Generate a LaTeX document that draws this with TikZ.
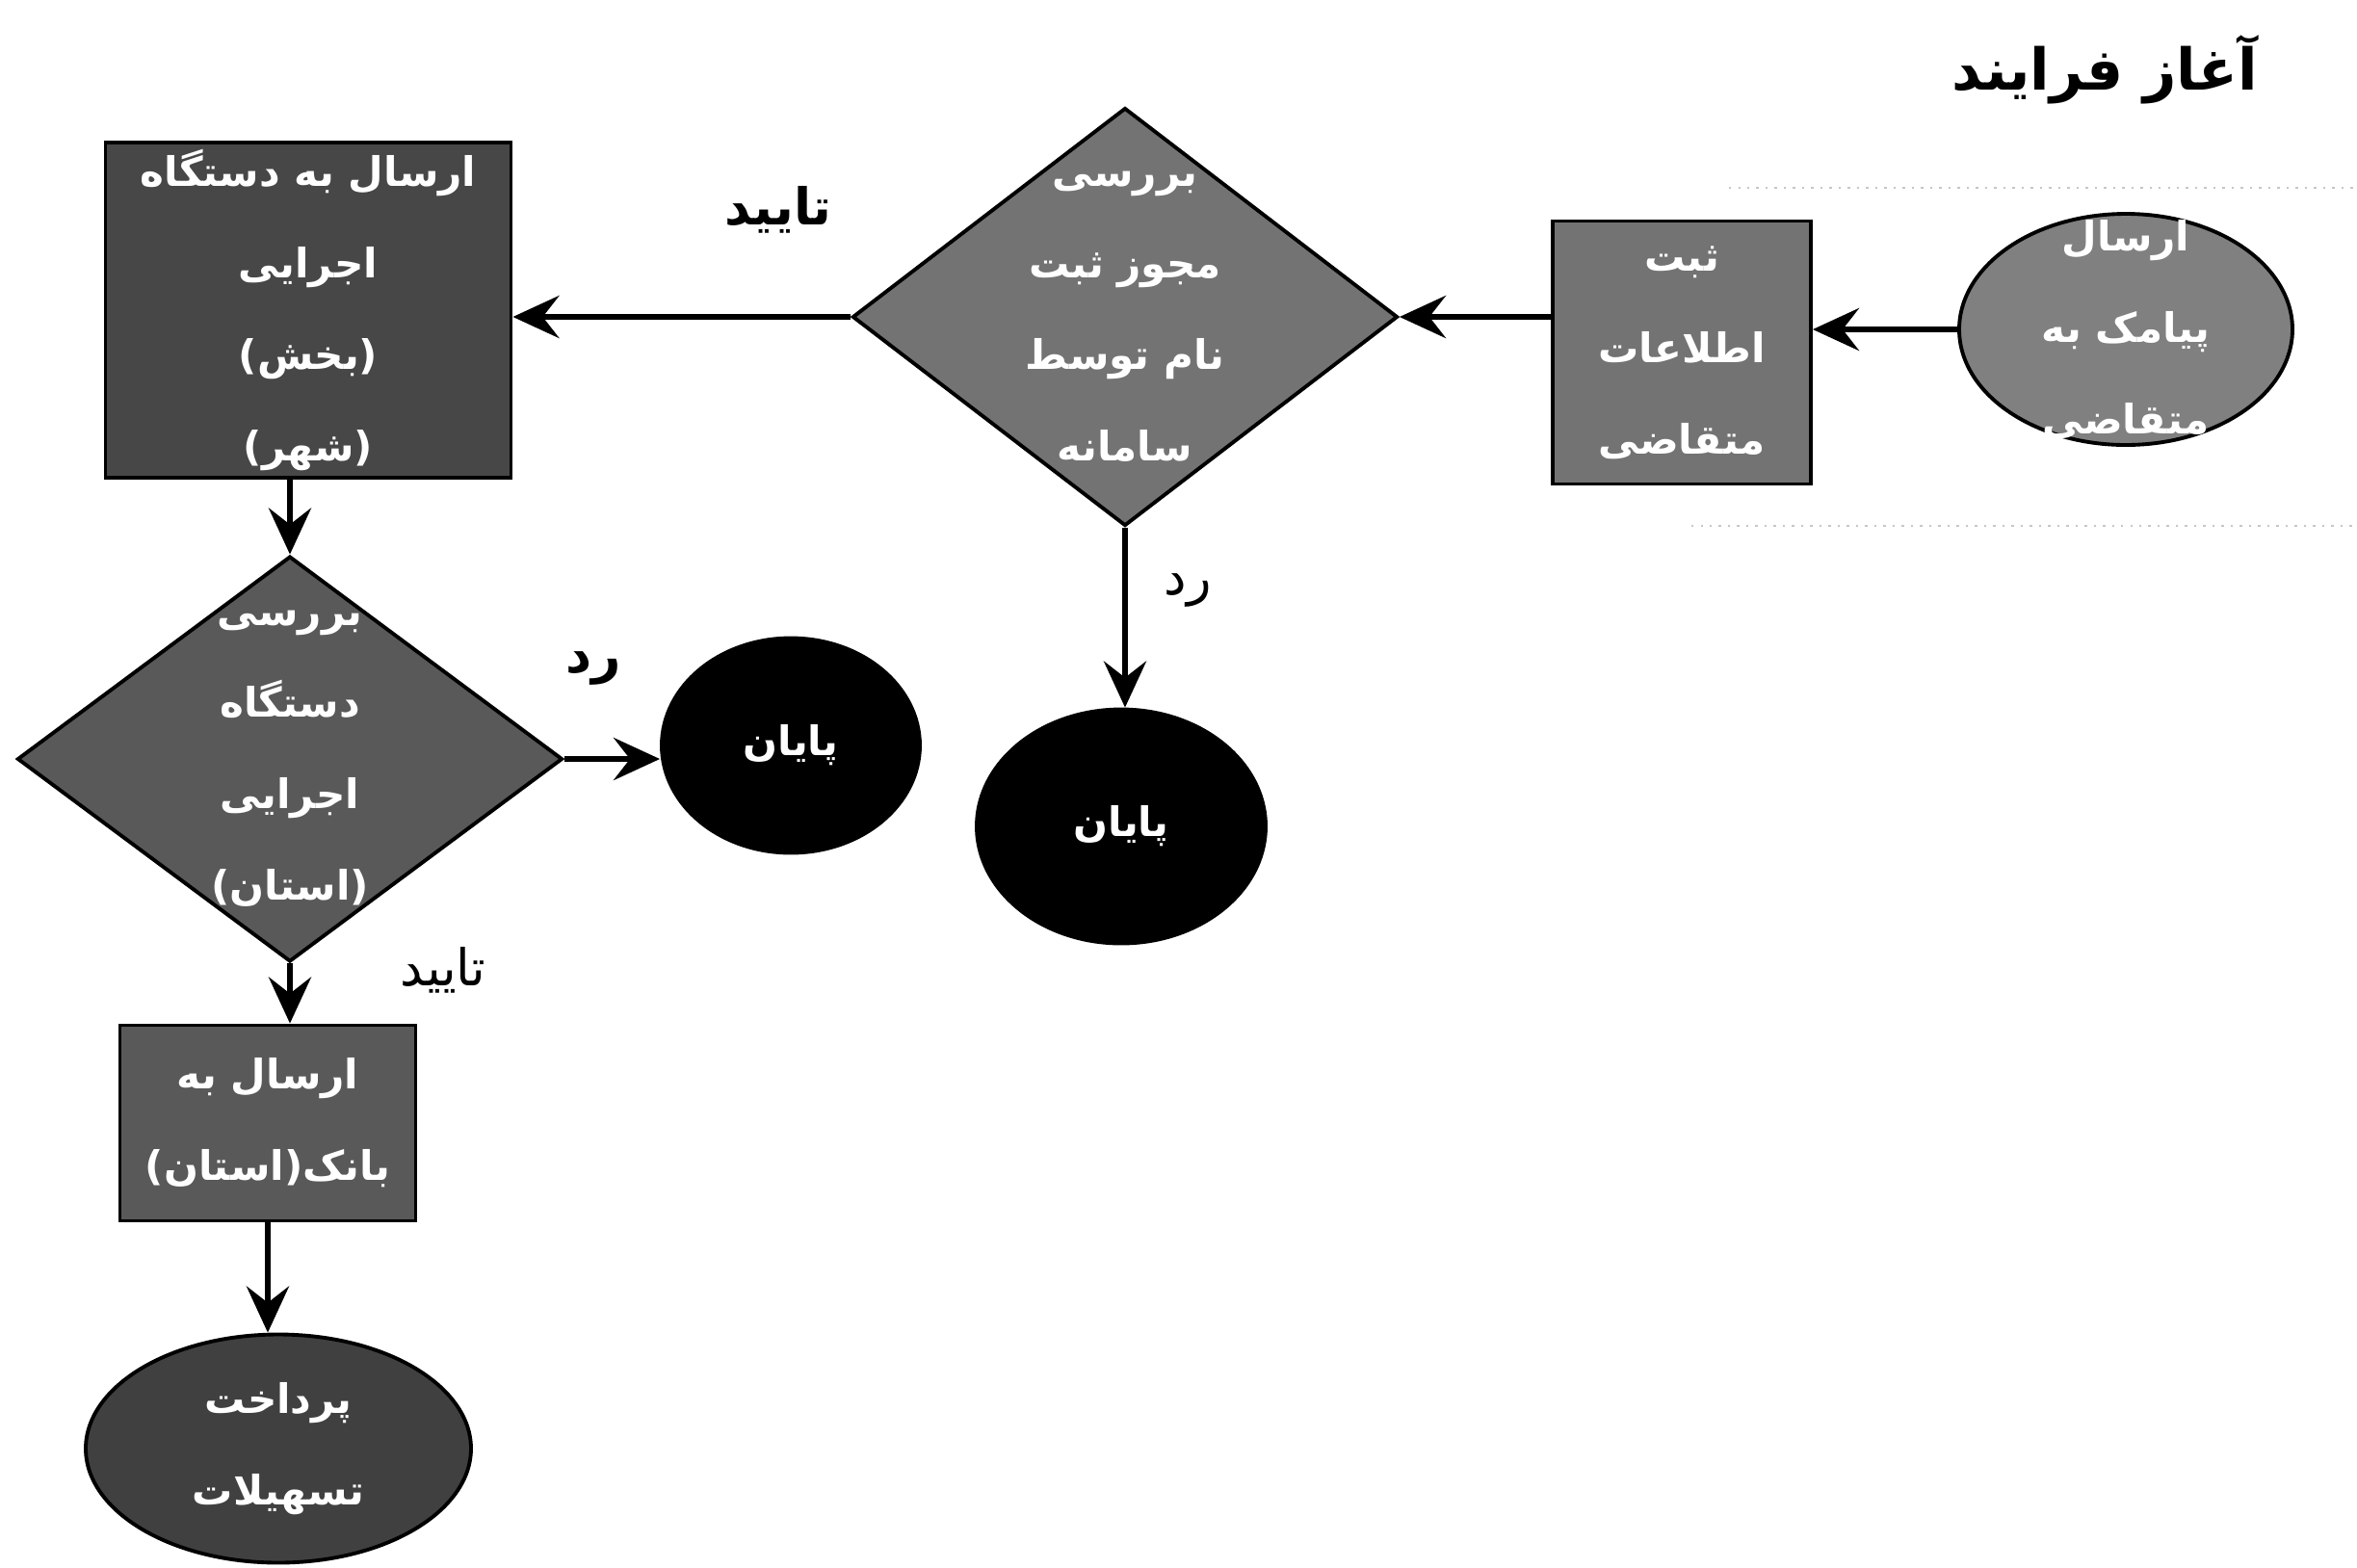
\documentclass[tikz,border=0pt]{standalone}
\usepackage{fontspec}
\newfontfamily\arabicfont[Script=Arabic]{DejaVu Sans}
\TeXXeTstate=1
\usetikzlibrary{shapes.geometric,arrows.meta}

\begin{document}
\begin{tikzpicture}[
    flowline/.style={line width=1.9pt,-{Stealth[length=4.8mm,width=4.4mm,inset=1.7mm]}},
    shapebox/.style={draw=black,line width=1.1pt,inner sep=0pt},
    inside/.style={text=white,font=\arabicfont\bfseries\fontsize{12}{27}\selectfont,align=center,inner sep=0pt},
    note/.style={font=\arabicfont\fontsize{15}{18}\selectfont,inner sep=0pt},
    boldnote/.style={note,font=\arabicfont\bfseries\fontsize{15}{18}\selectfont},
  ]
  \useasboundingbox (0,0) rectangle (24.47,-16.27);
  % Coordinates
  \coordinate (SMS) at (22.07,-3.42);
  \coordinate (REG) at (17.46,-3.66);
  \coordinate (CHK) at (11.68,-3.29);
  \coordinate (SND) at (3.20,-3.22);
  \coordinate (EOA) at (11.64,-8.58);
  \coordinate (DEV) at (3.01,-7.88);
  \coordinate (EOB) at (8.21,-7.74);
  \coordinate (BNK) at (2.78,-11.66);
  \coordinate (PAY) at (2.89,-15.04);
  % Lane (faint dotted)
  \draw[gray!45,dotted,line width=0.7pt] (17.95,-1.95) -- (24.47,-1.95);
  \draw[gray!45,dotted,line width=0.7pt] (17.56,-5.46) -- (24.47,-5.46);
  % Title
  \node[font=\arabicfont\bfseries\fontsize{17}{20}\selectfont,inner sep=0pt] (title) at (21.85,-0.72) {\beginR آغاز فرایند\endR};
  % Shapes
  \node[shapebox,ellipse,fill=black!50,minimum width=3.46cm,minimum height=2.40cm,
    label={[inside]center:{\beginR ارسال\endR\\\beginR پیامک به\endR\\\beginR متقاضی\endR}}] (sms) at (SMS) {};
  \node[shapebox,rectangle,fill=black!55,minimum width=2.68cm,minimum height=2.73cm,
    label={[inside]center:{\beginR ثبت\endR\\\beginR اطلاعات\endR\\\beginR متقاضی\endR}}] (reg) at (REG) {};
  \node[shapebox,diamond,fill=black!55,minimum width=5.66cm,minimum height=4.34cm,
    label={[inside]center:{\beginR بررسی\endR\\\beginR مجوز ثبت\endR\\\beginR نام توسط\endR\\\beginR سامانه\endR}}] (chk) at (CHK) {};
  \node[shapebox,rectangle,fill=black!72,minimum width=4.21cm,minimum height=3.48cm,
    label={[inside]center:{\beginR ارسال به دستگاه\endR\\\beginR اجرایی\endR\\\beginR (بخش)\endR\\\beginR (شهر)\endR}}] (snd) at (SND) {};
  \node[shapebox,ellipse,fill=black,minimum width=3.00cm,minimum height=2.43cm,
    label={[inside]center:\beginR پایان\endR}] (eoa) at (EOA) {};
  \node[shapebox,diamond,fill=black!65,minimum width=5.66cm,minimum height=4.21cm,
    label={[inside]center:{\beginR بررسی\endR\\\beginR دستگاه\endR\\\beginR اجرایی\endR\\\beginR (استان)\endR}}] (dev) at (DEV) {};
  \node[shapebox,ellipse,fill=black,minimum width=2.68cm,minimum height=2.23cm,
    label={[inside]center:\beginR پایان\endR}] (eob) at (EOB) {};
  \node[shapebox,rectangle,fill=black!65,minimum width=3.07cm,minimum height=2.03cm,
    label={[inside]center:{\beginR ارسال به\endR\\\beginR بانک(استان)\endR}}] (bnk) at (BNK) {};
  \node[shapebox,ellipse,fill=black!75,minimum width=4.00cm,minimum height=2.37cm,
    label={[inside]center:{\beginR پرداخت\endR\\\beginR تسهیلات\endR}}] (pay) at (PAY) {};
  % Connectors
  \draw[flowline] (sms.west) -- (sms.west -| reg.east);
  \draw[flowline] (chk.east -| reg.west) -- (chk.east);
  \draw[flowline] (chk.west) -- (chk.west -| snd.east);
  \draw[flowline] (chk.south) -- (chk.south |- eoa.north);
  \draw[flowline] (snd.south -| dev.north) -- (dev.north);
  \draw[flowline] (dev.east) -- (dev.east -| eob.west);
  \draw[flowline] (dev.south) -- (dev.south |- bnk.north);
  \draw[flowline] (bnk.south) -- (bnk.south |- pay.north);
  % Labels
  \node[boldnote] (yesA) at (8.08,-2.18) {\beginR تایید\endR};
  \node[note] (noA) at (12.33,-6.13) {\beginR رد\endR};
  \node[boldnote] (noB) at (6.16,-6.94) {\beginR رد\endR};
  \node[note] (yesB) at (4.60,-10.07) {\beginR تایید\endR};
\end{tikzpicture}
\end{document}
